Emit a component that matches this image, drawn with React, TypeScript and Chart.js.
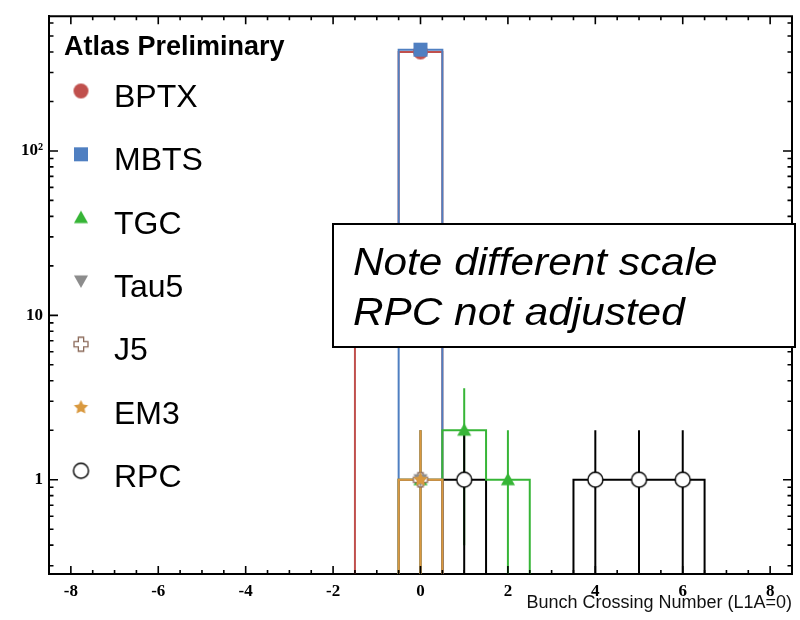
import React, { useEffect, useRef } from "react";
import { Chart, registerables } from "chart.js";

Chart.register(...registerables);

// ---------------- data ----------------
const SERIES = ["BPTX", "MBTS", "TGC", "Tau5", "J5", "EM3", "RPC"];

const BPTX_X = [-1, 0];
const BPTX_Y = [15, 400];
const BPTX_ERR = [3.9, 20];

const MBTS_X = [0];
const MBTS_Y = [413];
const MBTS_ERR = [20.3];

const TGC_X = [0, 1, 2];
const TGC_Y = [1, 2, 1];
const TGC_ERR = [1, 1.6, 1];

const TAU5_X = [0];
const TAU5_Y = [1];
const TAU5_ERR = [1];

const J5_X = [0];
const J5_Y = [1];
const J5_ERR = [1];

const EM3_X = [0];
const EM3_Y = [1];
const EM3_ERR = [1];

const RPC_X = [1, 4, 5, 6];
const RPC_Y = [1, 1, 1, 1];
const RPC_ERR = [1, 1, 1, 1];

const X_TICKS = [-8, -6, -4, -2, 0, 2, 4, 6, 8];
const Y_TICKS = [1, 10, 100];
const Y_TICK_LABELS = ["1", "10", "10²"];
const X_TITLE = "Bunch Crossing Number (L1A=0)";
const HEADER = "Atlas Preliminary";
const NOTE_LINES = ["Note different scale", "RPC not adjusted"];

const X_MIN = -8.5;
const X_MAX = 8.5;
const Y_MIN = 0.267;
const Y_MAX = 660;
const FLOOR = 1e-3;

const COLORS: Record<string, string> = {
  BPTX: "#c0504d",
  MBTS: "#4f7fc1",
  TGC: "#36b536",
  Tau5: "#8c8c8c",
  J5: "#8b6a5a",
  EM3: "#d9993f",
  RPC: "#000000",
};

const SANS = "'Liberation Sans', Arial, sans-serif";
const SERIF = "'Liberation Serif', 'Times New Roman', serif";

// ---------------- helpers ----------------
type P = { x: number; y: number | null };

function histOutline(xs: number[], ys: number[]): P[] {
  const pts: P[] = [];
  for (let i = 0; i < xs.length; i++) {
    const lo = xs[i] - 0.5;
    const hi = xs[i] + 0.5;
    const contiguous = i > 0 && Math.abs(xs[i] - xs[i - 1] - 1) < 1e-9;
    if (!contiguous) {
      if (i > 0) pts.push({ x: xs[i - 1] + 0.5, y: FLOOR });
      pts.push({ x: lo, y: FLOOR });
    }
    pts.push({ x: lo, y: ys[i] });
    pts.push({ x: hi, y: ys[i] });
  }
  pts.push({ x: xs[xs.length - 1] + 0.5, y: FLOOR });
  return pts;
}

function errSegments(xs: number[], ys: number[], es: number[]): P[] {
  const pts: P[] = [];
  xs.forEach((x, i) => {
    pts.push({ x, y: Math.max(ys[i] - es[i], FLOOR) });
    pts.push({ x, y: ys[i] + es[i] });
    pts.push({ x, y: null });
  });
  return pts;
}

function points(xs: number[], ys: number[]): P[] {
  return xs.map((x, i) => ({ x, y: ys[i] }));
}

function makeMarker(kind: string, color: string, size: number): HTMLCanvasElement {
  const c = document.createElement("canvas");
  const s = size + 4;
  c.width = s;
  c.height = s;
  const g = c.getContext("2d")!;
  const m = s / 2;
  const r = size / 2;
  g.fillStyle = color;
  g.strokeStyle = color;
  g.beginPath();
  if (kind === "circle") {
    g.arc(m, m, r, 0, Math.PI * 2);
    g.fill();
  } else if (kind === "square") {
    g.fillRect(m - r, m - r, size, size);
  } else if (kind === "triUp") {
    g.moveTo(m, m - r);
    g.lineTo(m + r, m + r * 0.8);
    g.lineTo(m - r, m + r * 0.8);
    g.closePath();
    g.fill();
  } else if (kind === "triDown") {
    g.moveTo(m, m + r);
    g.lineTo(m + r, m - r * 0.8);
    g.lineTo(m - r, m - r * 0.8);
    g.closePath();
    g.fill();
  } else if (kind === "openCross") {
    const a = r * 0.38;
    g.moveTo(m - a, m - r);
    g.lineTo(m + a, m - r);
    g.lineTo(m + a, m - a);
    g.lineTo(m + r, m - a);
    g.lineTo(m + r, m + a);
    g.lineTo(m + a, m + a);
    g.lineTo(m + a, m + r);
    g.lineTo(m - a, m + r);
    g.lineTo(m - a, m + a);
    g.lineTo(m - r, m + a);
    g.lineTo(m - r, m - a);
    g.lineTo(m - a, m - a);
    g.closePath();
    g.fillStyle = "#fff";
    g.fill();
    g.lineWidth = 1.3;
    g.stroke();
  } else if (kind === "star") {
    for (let k = 0; k < 10; k++) {
      const ang = -Math.PI / 2 + (k * Math.PI) / 5;
      const rr = k % 2 === 0 ? r : r * 0.5;
      const px = m + rr * Math.cos(ang);
      const py = m + rr * Math.sin(ang);
      if (k === 0) g.moveTo(px, py);
      else g.lineTo(px, py);
    }
    g.closePath();
    g.fill();
  } else if (kind === "openCircle") {
    g.arc(m, m, r, 0, Math.PI * 2);
    g.fillStyle = "#fff";
    g.fill();
    g.lineWidth = 1.4;
    g.stroke();
  }
  return c;
}

// ---------------- component ----------------
export default function App() {
  const ref = useRef<HTMLCanvasElement | null>(null);

  useEffect(() => {
    if (!ref.current) return;

    const markers: Record<string, HTMLCanvasElement> = {
      BPTX: makeMarker("circle", COLORS.BPTX, 15),
      MBTS: makeMarker("square", COLORS.MBTS, 14),
      TGC: makeMarker("triUp", COLORS.TGC, 14),
      Tau5: makeMarker("triDown", COLORS.Tau5, 14),
      J5: makeMarker("openCross", COLORS.J5, 14),
      EM3: makeMarker("star", COLORS.EM3, 15),
      RPC: makeMarker("openCircle", COLORS.RPC, 15),
    };

    const X: Record<string, number[]> = { BPTX: BPTX_X, MBTS: MBTS_X, TGC: TGC_X, Tau5: TAU5_X, J5: J5_X, EM3: EM3_X, RPC: RPC_X };
    const Y: Record<string, number[]> = { BPTX: BPTX_Y, MBTS: MBTS_Y, TGC: TGC_Y, Tau5: TAU5_Y, J5: J5_Y, EM3: EM3_Y, RPC: RPC_Y };
    const E: Record<string, number[]> = { BPTX: BPTX_ERR, MBTS: MBTS_ERR, TGC: TGC_ERR, Tau5: TAU5_ERR, J5: J5_ERR, EM3: EM3_ERR, RPC: RPC_ERR };

    const markerDs = (name: string) => ({
      label: name,
      data: points(X[name], Y[name]),
      showLine: false,
      pointStyle: markers[name],
      pointRadius: 7,
      pointHoverRadius: 7,
    });
    const errDs = (name: string) => ({
      label: name + " err",
      data: errSegments(X[name], Y[name], E[name]),
      showLine: true,
      spanGaps: false,
      borderColor: COLORS[name],
      borderWidth: 2,
      pointRadius: 0,
    });
    const histDs = (name: string) => ({
      label: name + " hist",
      data: histOutline(X[name], Y[name]),
      showLine: true,
      borderColor: COLORS[name],
      borderWidth: 2,
      pointRadius: 0,
      fill: false,
    });

    // first = drawn on top
    const datasets: any[] = [
      markerDs("RPC"),
      markerDs("EM3"),
      markerDs("Tau5"),
      markerDs("J5"),
      markerDs("TGC"),
      markerDs("MBTS"),
      markerDs("BPTX"),
      errDs("RPC"),
      errDs("EM3"),
      errDs("J5"),
      errDs("Tau5"),
      errDs("TGC"),
      errDs("MBTS"),
      errDs("BPTX"),
      histDs("EM3"),
      histDs("J5"),
      histDs("Tau5"),
      histDs("TGC"),
      histDs("RPC"),
      histDs("MBTS"),
      histDs("BPTX"),
    ];

    const overlay = {
      id: "overlay",
      afterDraw(chart: any) {
        const ctx = chart.ctx as CanvasRenderingContext2D;
        const xs = chart.scales.x;
        const ys = chart.scales.y;
        const { left, right, top, bottom } = chart.chartArea;
        ctx.save();
        // frame (top + right)
        ctx.strokeStyle = "#000";
        ctx.lineWidth = 2;
        ctx.beginPath();
        ctx.moveTo(left - 1, top);
        ctx.lineTo(right, top);
        ctx.lineTo(right, bottom + 1);
        ctx.stroke();
        // inward ticks
        ctx.lineWidth = 1.6;
        ctx.beginPath();
        for (let v = X_MIN; v <= X_MAX + 1e-9; v += 0.5) {
          const px = xs.getPixelForValue(v);
          const major = X_TICKS.some((t) => Math.abs(t - v) < 1e-9);
          const len = major ? 8 : 4;
          ctx.moveTo(px, bottom);
          ctx.lineTo(px, bottom - len);
          ctx.moveTo(px, top);
          ctx.lineTo(px, top + len);
        }
        for (const d of [0.1, 1, 10, 100]) {
          for (let mm = 1; mm <= 9; mm++) {
            const v = mm * d;
            if (v < Y_MIN || v > Y_MAX) continue;
            const py = ys.getPixelForValue(v);
            const len = mm === 1 ? 9 : 4.5;
            ctx.moveTo(left, py);
            ctx.lineTo(left + len, py);
            ctx.moveTo(right, py);
            ctx.lineTo(right - len, py);
          }
        }
        ctx.stroke();

        // note box
        ctx.fillStyle = "#fff";
        ctx.fillRect(333, 224, 462, 123);
        ctx.lineWidth = 2;
        ctx.strokeRect(333, 224, 462, 123);
        ctx.fillStyle = "#000";
        ctx.font = `italic 39px ${SANS}`;
        ctx.textAlign = "left";
        ctx.textBaseline = "alphabetic";
        ctx.save();
        ctx.translate(353, 0);
        ctx.scale(1.085, 1);
        ctx.fillText(NOTE_LINES[0], 0, 275);
        ctx.fillText(NOTE_LINES[1], 0, 325);
        ctx.restore();

        // legend
        ctx.font = `bold 27px ${SANS}`;
        ctx.fillText(HEADER, 64, 55);
        ctx.font = `32px ${SANS}`;
        SERIES.forEach((name, i) => {
          const base = 107 + i * 63.3;
          const img = markers[name];
          ctx.drawImage(img, 81 - img.width / 2, base - 16 - img.height / 2);
          ctx.fillText(name, 114, base);
        });
        ctx.restore();
      },
    };

    const chart = new Chart(ref.current, {
      type: "scatter",
      data: { datasets },
      options: {
        animation: false,
        responsive: false,
        events: [],
        layout: { padding: { left: 0, top: 12, right: 7, bottom: 0 } },
        plugins: { legend: { display: false }, tooltip: { enabled: false } },
        scales: {
          x: {
            type: "linear",
            min: X_MIN,
            max: X_MAX,
            afterBuildTicks: (s: any) => {
              s.ticks = X_TICKS.map((v) => ({ value: v }));
            },
            afterFit: (s: any) => {
              s.height = 46;
            },
            grid: { display: false, drawTicks: false },
            border: { display: true, color: "#000", width: 2 },
            ticks: {
              padding: 7,
              color: "#000",
              font: { family: SERIF, size: 17, weight: "bold" },
              maxRotation: 0,
              autoSkip: false,
            },
            title: {
              display: true,
              text: X_TITLE,
              align: "end",
              color: "#111",
              font: { family: SANS, size: 18 },
              padding: { top: 0, bottom: 6 },
            },
          },
          y: {
            type: "logarithmic",
            min: Y_MIN,
            max: Y_MAX,
            afterBuildTicks: (s: any) => {
              s.ticks = Y_TICKS.map((v) => ({ value: v }));
            },
            afterFit: (s: any) => {
              s.width = 49;
            },
            grid: { display: false, drawTicks: false },
            border: { display: true, color: "#000", width: 2 },
            ticks: {
              padding: 6,
              color: "#000",
              font: { family: SERIF, size: 17, weight: "bold" },
              autoSkip: false,
              callback: (v: any) => {
                const i = Y_TICKS.indexOf(Number(v));
                return i >= 0 ? Y_TICK_LABELS[i] : "";
              },
            },
          },
        },
      },
      plugins: [overlay],
    } as any);

    return () => chart.destroy();
  }, []);

  return (
    <div style={{ position: "absolute", left: 0, top: 0, width: 800, height: 620, background: "#fff" }}>
      <canvas ref={ref} width={800} height={620} style={{ display: "block" }} />
    </div>
  );
}
